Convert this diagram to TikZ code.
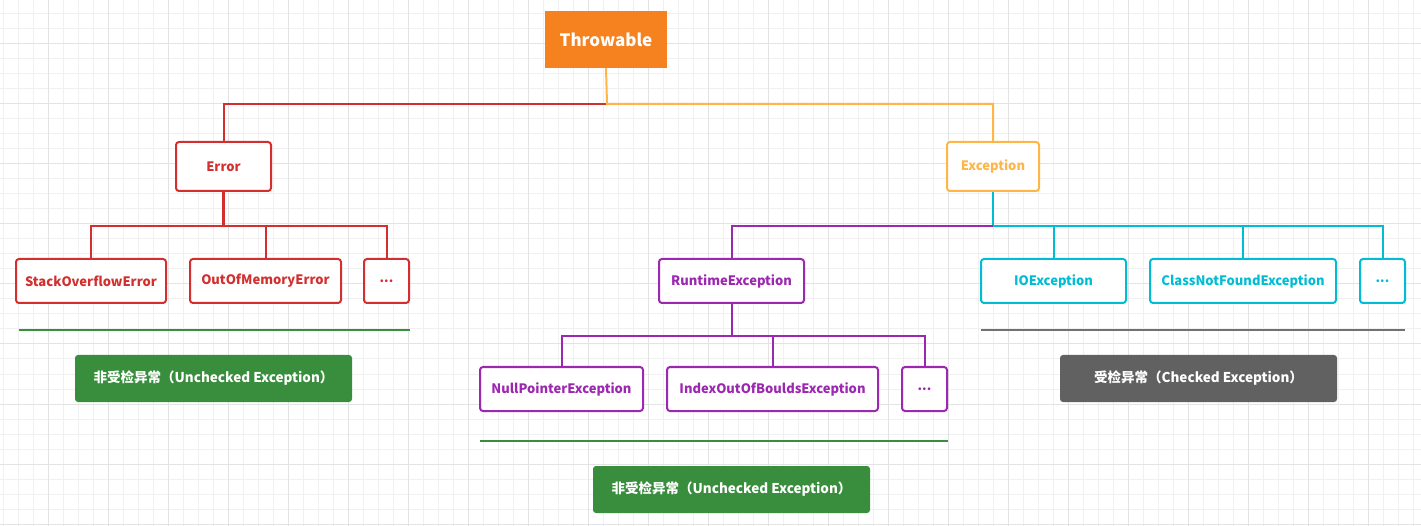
\documentclass[tikz,border=0pt]{standalone}
\usepackage{fontspec}
\setmainfont{Noto Sans CJK SC}
\usepackage{tikz}
\usetikzlibrary{positioning}
\definecolor{throworange}{HTML}{F5821F}
\definecolor{exorange}{HTML}{FFB547}
\definecolor{errred}{HTML}{D32F2F}
\definecolor{rtpurple}{HTML}{9C27B0}
\definecolor{chkcyan}{HTML}{00BCD4}
\definecolor{tagreen}{HTML}{388E3C}
\definecolor{taggray}{HTML}{616161}
\definecolor{gridminor}{HTML}{F0F0F0}
\definecolor{gridmajor}{HTML}{E3E3E3}

\begin{document}
\begin{tikzpicture}[x=1pt,y=-1pt,
    every node/.style={inner sep=0pt,font=\fontsize{13}{15}\selectfont\bfseries},
    cls/.style={draw=#1,text=#1,fill=white,line width=2pt,rounded corners=3pt,minimum height=44pt},
    tag/.style={fill=#1,text=white,rounded corners=3pt,minimum width=277pt,minimum height=47pt,
                font=\fontsize{13.5}{15}\selectfont\bfseries},
    link/.style={draw=#1,line width=2pt}]
  \useasboundingbox (0,0) rectangle (1421,526);
  % background grid
  \foreach \gx in {3,18,...,1421} \draw[gridminor,line width=1pt] (\gx,0) -- (\gx,526);
  \foreach \gy in {14,29,...,526} \draw[gridminor,line width=1pt] (0,\gy) -- (1421,\gy);
  \foreach \gx in {48,108,...,1421} \draw[gridmajor,line width=1pt] (\gx,0) -- (\gx,526);
  \foreach \gy in {44,104,...,526} \draw[gridmajor,line width=1pt] (0,\gy) -- (1421,\gy);

  % root
  \node[fill=throworange,text=white,minimum width=122pt,minimum height=57pt,
        font=\fontsize{17}{20}\selectfont\bfseries] (throwable) at (606,39.5) {Throwable};
  \node[cls=errred,minimum width=95pt,minimum height=49pt] (error) at (223.5,166.5) {Error};
  \node[cls=exorange,minimum width=92pt,minimum height=49pt] (exception) at (993,166.5) {Exception};

  % errors
  \node[cls=errred,minimum width=150pt] (soe) at (91,281) {StackOverflowError};
  \node[cls=errred,minimum width=151pt] (oom) at (265.5,281) {OutOfMemoryError};
  \node[cls=errred,minimum width=45pt] (errmore) at (386.5,281) {...};

  % exceptions
  \node[cls=rtpurple,minimum width=145pt] (runtime) at (731.5,281) {RuntimeException};
  \node[cls=chkcyan,minimum width=145pt] (ioe) at (1053.5,281) {IOException};
  \node[cls=chkcyan,minimum width=186pt] (cnfe) at (1243,281) {ClassNotFoundException};
  \node[cls=chkcyan,minimum width=45pt] (exmore) at (1382.5,281) {...};

  % runtime exceptions
  \node[cls=rtpurple,minimum width=163pt] (npe) at (561.5,389) {NullPointerException};
  \node[cls=rtpurple,minimum width=211pt] (ioobe) at (772.5,389) {IndexOutOfBouldsException};
  \node[cls=rtpurple,minimum width=45pt] (rtmore) at (924.5,389) {...};

  % tags
  \node[tag=tagreen] (unchecked1) at (213.5,378.5) {非受检异常（Unchecked Exception）};
  \node[tag=tagreen] (unchecked2) at (731.5,489.5) {非受检异常（Unchecked Exception）};
  \node[tag=taggray] (checked) at (1198.5,378.5) {受检异常（Checked Exception）};

  % separators
  \draw[tagreen,line width=2pt] (19,330.5) -- (410,330.5);
  \draw[tagreen,line width=2pt] (480,441) -- (948,441);
  \draw[taggray!90,line width=2pt] (981,330.5) -- (1405,330.5);

  % connectors
  \coordinate (rootbus) at (607,104);
  \coordinate (errbus) at (223.5,226);
  \coordinate (exbus) at (993,226);
  \coordinate (rtbus) at (731.5,336);
  \draw[link=errred] (rootbus) -| (error.north);
  \draw[link=exorange] (throwable.south) -- (rootbus) -| (exception.north);
  \draw[link=errred,line width=2.6pt] (error.south) -- (errbus);
  \draw[link=errred] (soe.north) |- (errbus) -| (errmore.north);
  \draw[link=errred] (oom.north) -- (oom.north |- errbus);
  \draw[link=chkcyan] (exception.south) -- (exbus) -| (exmore.north);
  \draw[link=rtpurple] (exbus) -| (runtime.north);
  \draw[link=chkcyan] (ioe.north) -- (ioe.north |- exbus);
  \draw[link=chkcyan] (cnfe.north) -- (cnfe.north |- exbus);
  \draw[link=rtpurple] (runtime.south) -- (rtbus);
  \draw[link=rtpurple] (npe.north) |- (rtbus) -| (rtmore.north);
  \draw[link=rtpurple] (ioobe.north) -- (ioobe.north |- rtbus);
\end{tikzpicture}
\end{document}
